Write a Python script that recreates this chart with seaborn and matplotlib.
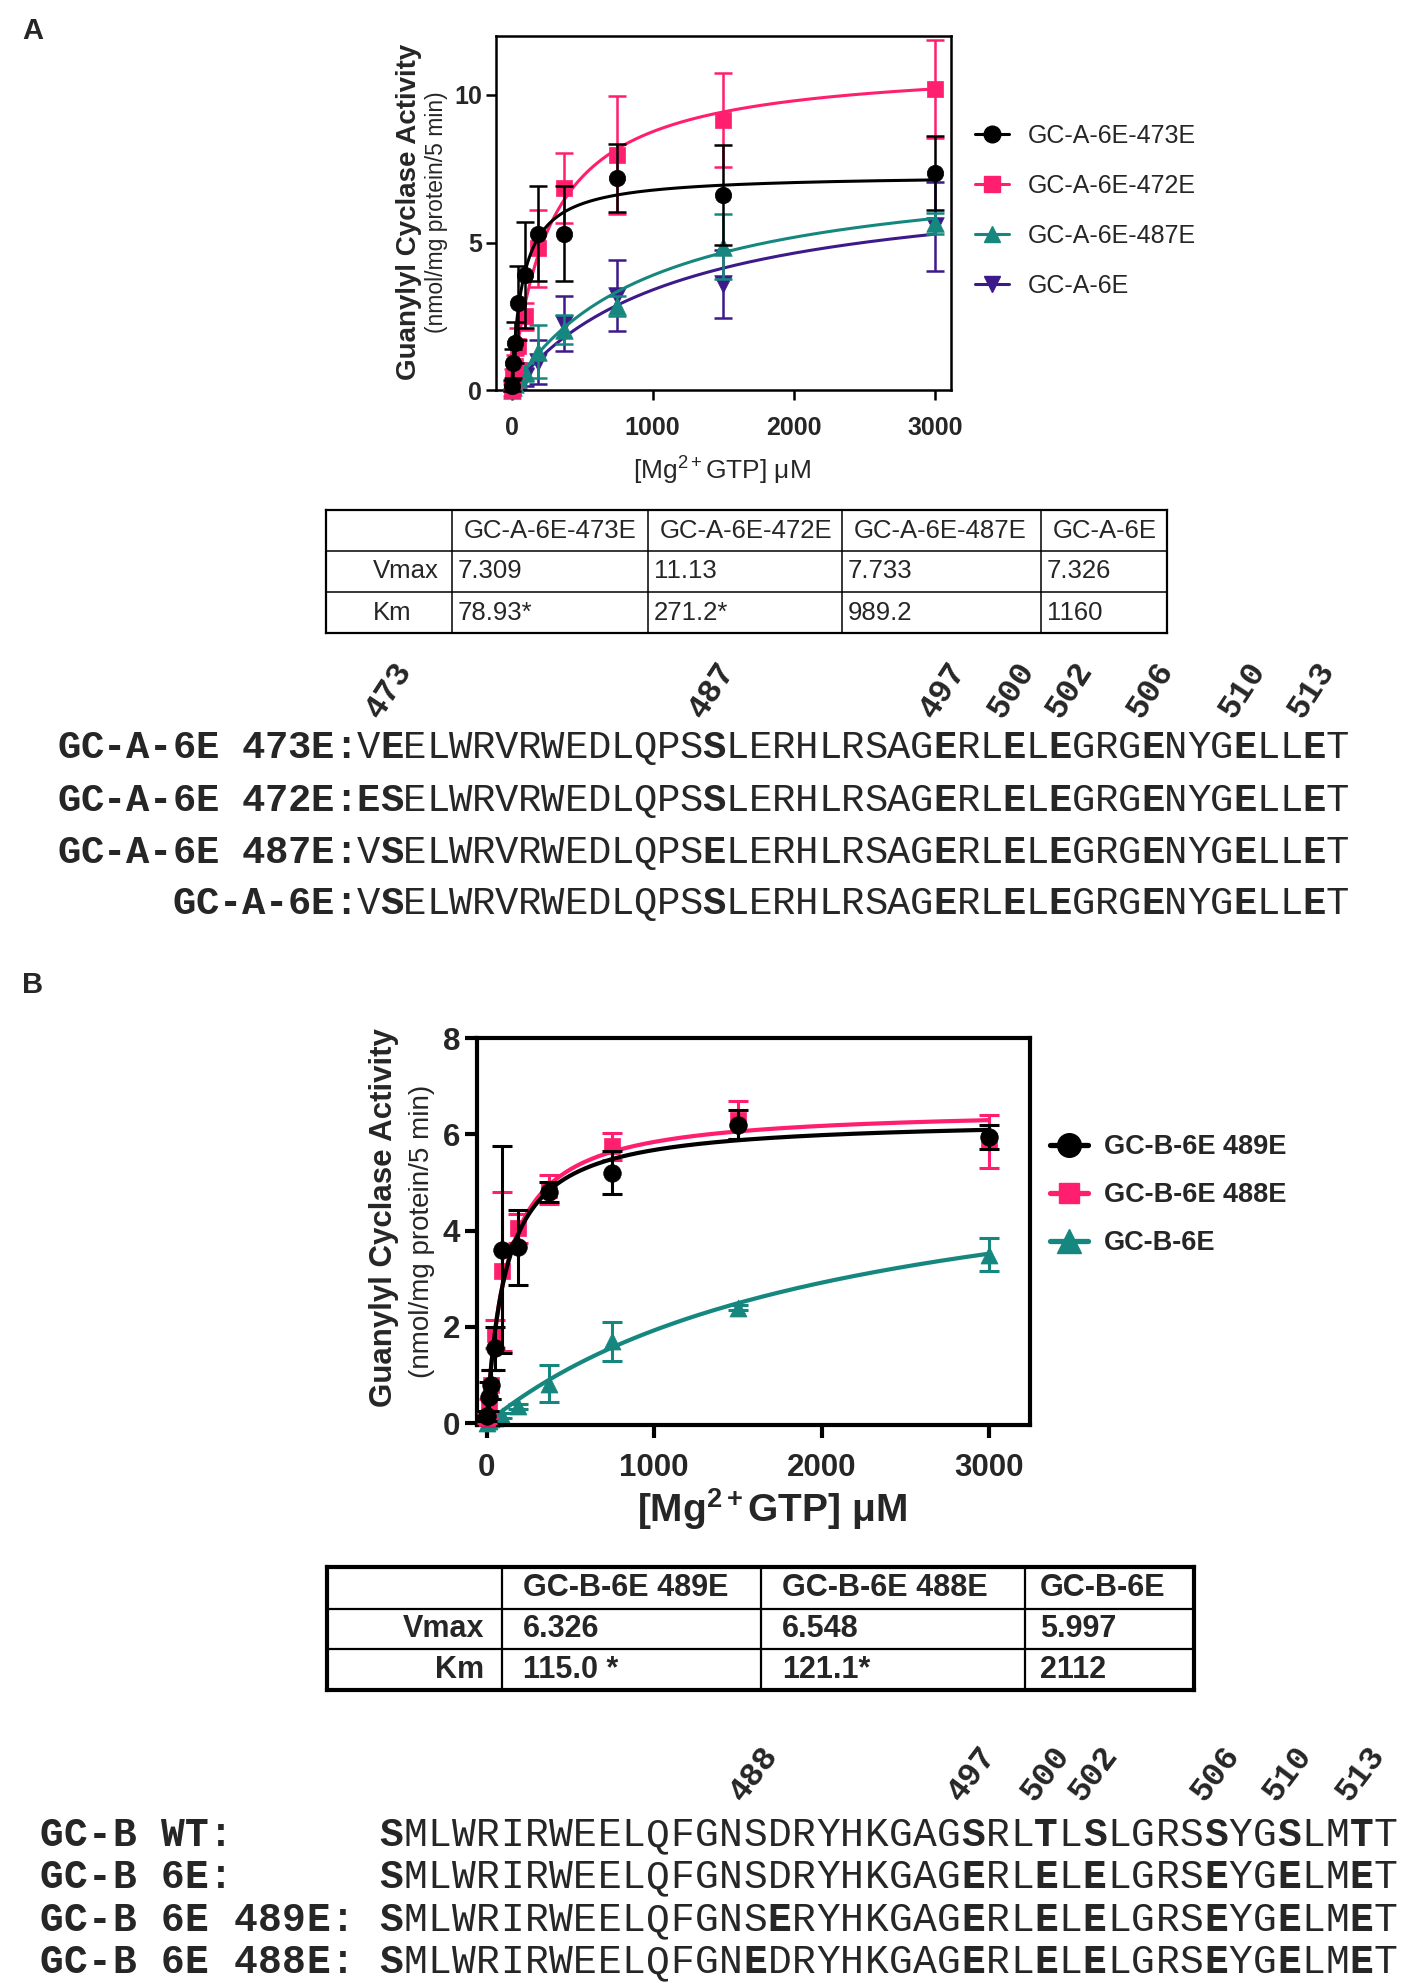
import numpy as np
import pandas as pd
import matplotlib
matplotlib.use("Agg")
import matplotlib.pyplot as plt
import seaborn as sns
from matplotlib.lines import Line2D

W, H, DPI = 1418, 1982, 100

# ---------------- data ----------------
conc = [0, 11.7, 23.4, 46.9, 93.75, 187.5, 375, 750, 1500, 3000]

a_names = ["GC-A-6E-473E", "GC-A-6E-472E", "GC-A-6E-487E", "GC-A-6E"]
a_473E = [0.15, 0.9, 1.6, 2.95, 3.9, 5.3, 5.3, 7.2, 6.6, 7.35]
a_473E_err = [0.2, 0.5, 0.7, 1.25, 1.8, 1.6, 1.6, 1.15, 1.7, 1.25]
a_472E = [0.0, 0.4, 0.8, 1.5, 2.5, 4.8, 6.85, 7.95, 9.15, 10.2]
a_472E_err = [0.2, 0.3, 0.4, 0.6, 0.45, 1.3, 1.2, 2.0, 1.6, 1.65]
a_487E = [0.0, 0.1, 0.2, 0.4, 0.6, 1.3, 2.05, 2.85, 4.85, 5.65]
a_487E_err = [0.05, 0.1, 0.1, 0.15, 0.3, 0.9, 0.5, 0.35, 1.1, 0.35]
a_6E = [0.0, 0.05, 0.1, 0.2, 0.45, 0.95, 2.25, 3.2, 3.6, 5.55]
a_6E_err = [0.05, 0.1, 0.1, 0.15, 0.3, 0.75, 0.93, 1.2, 1.15, 1.5]
a_vmax = [7.309, 11.13, 7.733, 7.326]
a_km = [78.93, 271.2, 989.2, 1160]
a_vmax_txt = ["7.309", "11.13", "7.733", "7.326"]
a_km_txt = ["78.93*", "271.2*", "989.2", "1160"]
a_xticks = [0, 1000, 2000, 3000]
a_yticks = [0, 5, 10]

b_names = ["GC-B-6E 489E", "GC-B-6E 488E", "GC-B-6E"]
b_489E = [0.15, 0.55, 0.8, 1.55, 3.6, 3.65, 4.8, 5.2, 6.2, 5.95]
b_489E_err = [0.1, 0.3, 0.3, 0.45, 2.15, 0.78, 0.2, 0.45, 0.3, 0.25]
b_488E = [0.1, 0.3, 0.8, 1.85, 3.15, 4.05, 4.85, 5.75, 6.3, 5.85]
b_488E_err = [0.1, 0.2, 0.3, 0.3, 1.65, 0.3, 0.3, 0.28, 0.4, 0.55]
b_6E = [0.0, 0.05, 0.08, 0.1, 0.15, 0.35, 0.82, 1.7, 2.4, 3.5]
b_6E_err = [0.02, 0.03, 0.03, 0.05, 0.05, 0.05, 0.38, 0.4, 0.05, 0.35]
b_vmax = [6.326, 6.548, 5.997]
b_km = [115.0, 121.1, 2112]
b_vmax_txt = ["6.326", "6.548", "5.997"]
b_km_txt = ["115.0 *", "121.1*", "2112"]
b_xticks = [0, 1000, 2000, 3000]
b_yticks = [0, 2, 4, 6, 8]

# sequences
seqA_labels = ["GC-A-6E 473E:", "GC-A-6E 472E:", "GC-A-6E 487E:", "GC-A-6E:"]
seqA = ["VEELWRVRWEDLQPSSLERHLRSAGERLELEGRGENYGELLET",
        "ESELWRVRWEDLQPSSLERHLRSAGERLELEGRGENYGELLET",
        "VSELWRVRWEDLQPSELERHLRSAGERLELEGRGENYGELLET",
        "VSELWRVRWEDLQPSSLERHLRSAGERLELEGRGENYGELLET"]
seqA_bold_common = [1, 15, 25, 28, 30, 34, 38, 41]
seqA_bold_extra = [[], [0], [], []]
seqA_nums = ["473", "487", "497", "500", "502", "506", "510", "513"]
seqA_num_idx = [1, 15, 25, 28, 30.5, 34, 38, 41]

seqB_labels = ["GC-B WT:", "GC-B 6E:", "GC-B 6E 489E:", "GC-B 6E 488E:"]
seqB = ["SMLWRIRWEELQFGNSDRYHKGAGSRLTLSLGRSSYGSLMTT",
        "SMLWRIRWEELQFGNSDRYHKGAGERLELELGRSEYGELMET",
        "SMLWRIRWEELQFGNSERYHKGAGERLELELGRSEYGELMET",
        "SMLWRIRWEELQFGNEDRYHKGAGERLELELGRSEYGELMET"]
seqB_bold_common = [0, 24, 27, 29, 34, 37, 40]
seqB_bold_extra = [[], [], [16], [15]]
seqB_nums = ["488", "497", "500", "502", "506", "510", "513"]
seqB_num_idx = [15, 24, 27, 29, 34, 37, 40]

BLACK = "#000000"
PINK = "#FF1F6E"
TEAL = "#16877F"
PURPLE = "#3D1A8A"

# ---------------- style ----------------
sns.set_style("ticks")
plt.rcParams['font.family'] = ['Liberation Sans', 'DejaVu Sans']
plt.rcParams['mathtext.fontset'] = 'custom'
plt.rcParams['mathtext.rm'] = 'Liberation Sans'
plt.rcParams['mathtext.it'] = 'Liberation Sans:italic'
plt.rcParams['mathtext.bf'] = 'Liberation Sans:bold'

fig = plt.figure(figsize=(W / DPI, H / DPI), dpi=DPI)
fig.patch.set_facecolor('white')


def px_axes(l, t, r, b):
    return fig.add_axes([l / W, 1 - b / H, (r - l) / W, (b - t) / H])


def draw_series(ax, y, e, vmax, km, color, marker, size, lw, elw, cap, z):
    xf = np.linspace(0, 3000, 500)
    df_fit = pd.DataFrame({"x": xf, "y": vmax * xf / (km + xf)})
    sns.lineplot(data=df_fit, x="x", y="y", color=color, linewidth=lw, ax=ax, zorder=z)
    ax.errorbar(conc, y, yerr=e, fmt='none', ecolor=color, elinewidth=elw,
                capsize=cap, capthick=elw, zorder=z + 0.1, clip_on=False)
    df_pts = pd.DataFrame({"x": conc, "y": y})
    sns.scatterplot(data=df_pts, x="x", y="y", color=color, marker=marker, s=size,
                    edgecolor=color, linewidth=0.5, ax=ax, zorder=z + 0.2,
                    clip_on=False, legend=False)


def style_axes(ax, xlim, ylim, xt, yt, lw, tl, fs, pady, padx):
    ax.set_xlim(*xlim)
    ax.set_ylim(*ylim)
    ax.set_xticks(xt)
    ax.set_yticks(yt)
    ax.set_xticklabels([str(v) for v in xt], fontsize=fs, fontweight='bold')
    ax.set_yticklabels([str(v) for v in yt], fontsize=fs, fontweight='bold')
    ax.set_xlabel("")
    ax.set_ylabel("")
    for s in ax.spines.values():
        s.set_visible(True)
        s.set_linewidth(lw)
        s.set_color("black")
    ax.tick_params(axis='both', direction='out', length=tl, width=lw, color='black')
    ax.tick_params(axis='x', pad=padx)
    ax.tick_params(axis='y', pad=pady)
    ax.set_facecolor('white')


# ---------------- panel A plot ----------------
axA = px_axes(496, 36, 951, 390)
draw_series(axA, a_6E, a_6E_err, a_vmax[3], a_km[3], PURPLE, 'v', 160, 2.2, 1.8, 6.5, 2)
draw_series(axA, a_487E, a_487E_err, a_vmax[2], a_km[2], TEAL, '^', 160, 2.2, 1.8, 6.5, 3)
draw_series(axA, a_472E, a_472E_err, a_vmax[1], a_km[1], PINK, 's', 120, 2.2, 1.8, 6.5, 4)
draw_series(axA, a_473E, a_473E_err, a_vmax[0], a_km[0], BLACK, 'o', 140, 2.2, 1.8, 6.5, 5)
style_axes(axA, (-110, 3115), (0, 12), a_xticks, a_yticks, 1.8, 7, 18, 3, 12)

handlesA = [Line2D([0], [0], color=c, marker=m, markersize=ms, linewidth=2.2)
            for c, m, ms in zip([BLACK, PINK, TEAL, PURPLE], ['o', 's', '^', 'v'], [12, 11, 12, 12])]
fig.legend(handlesA, a_names, loc='upper left', bbox_to_anchor=(975 / W, 1 - 124 / H),
           frameon=False, fontsize=18, handlelength=1.36, handletextpad=0.75,
           labelspacing=1.04, borderpad=0, borderaxespad=0)

# ---------------- panel B plot ----------------
axB = px_axes(477, 1038, 1030, 1425)
draw_series(axB, b_6E, b_6E_err, b_vmax[2], b_km[2], TEAL, '^', 150, 3.0, 2.2, 7, 2)
draw_series(axB, b_488E, b_488E_err, b_vmax[1], b_km[1], PINK, 's', 140, 3.0, 2.2, 7, 3)
draw_series(axB, b_489E, b_489E_err, b_vmax[0], b_km[0], BLACK, 'o', 160, 3.0, 2.2, 7, 4)
style_axes(axB, (-58, 3245), (-0.04, 8), b_xticks, b_yticks, 3.0, 9, 22.5, 3, 11)

handlesB = [Line2D([0], [0], color=c, marker=m, markersize=ms, linewidth=3.8)
            for c, m, ms in zip([BLACK, PINK, TEAL], ['o', 's', '^'], [17, 15, 17])]
fig.legend(handlesB, b_names, loc='upper left', bbox_to_anchor=(1050 / W, 1 - 1134 / H),
           frameon=False, prop={'size': 19.5, 'weight': 'bold'}, handlelength=1.4,
           handletextpad=0.6, labelspacing=0.82, borderpad=0, borderaxespad=0)

# ---------------- overlay for text, tables, sequences ----------------
ov = fig.add_axes([0, 0, 1, 1], zorder=10)
ov.set_xlim(0, W)
ov.set_ylim(H, 0)
ov.axis('off')
ov.patch.set_alpha(0)

# panel letters
ov.text(33, 31, "A", fontsize=21, fontweight='bold', ha='center', va='center')
ov.text(33, 985, "B", fontsize=21, fontweight='bold', ha='center', va='center')

# axis labels A
ov.text(409, 212, "Guanylyl Cyclase Activity", rotation=90, fontsize=20,
        fontweight='bold', ha='center', va='center')
ov.text(437, 212, "(nmol/mg protein/5 min)", rotation=90, fontsize=16.5,
        ha='center', va='center')
ov.text(722, 455, "[Mg$^{\\mathregular{2+}}$GTP] \u03bcM", fontsize=19,
        ha='center', va='top')

# axis labels B
ov.text(384, 1218, "Guanylyl Cyclase Activity", rotation=90, fontsize=22.5,
        fontweight='bold', ha='center', va='center')
ov.text(422, 1231, "(nmol/mg protein/5 min)", rotation=90, fontsize=20,
        ha='center', va='center')
ov.text(772, 1486, "[Mg$^{\\mathbf{2+}}$GTP] \u03bcM", fontsize=28,
        fontweight='bold', ha='center', va='top')

# table A
tA_x = [326, 452, 648, 842, 1041, 1167]
tA_y = [510, 551, 592, 633]
for i, yy in enumerate(tA_y):
    ov.plot([tA_x[0], tA_x[-1]], [yy, yy], color='black',
            lw=1.6 if i in (0, len(tA_y) - 1) else 1.1, solid_capstyle='projecting')
for i, xx in enumerate(tA_x):
    ov.plot([xx, xx], [tA_y[0], tA_y[-1]], color='black',
            lw=1.6 if i in (0, len(tA_x) - 1) else 1.1, solid_capstyle='projecting')
rowsA_c = [(tA_y[k] + tA_y[k + 1]) / 2 for k in range(3)]
for j, name in enumerate(a_names):
    ov.text(tA_x[j + 1] + 12, rowsA_c[0], name, fontsize=18.5, ha='left', va='center')
    ov.text(tA_x[j + 1] + 6, rowsA_c[1], a_vmax_txt[j], fontsize=18.5, ha='left', va='center')
    ov.text(tA_x[j + 1] + 6, rowsA_c[2], a_km_txt[j], fontsize=18.5, ha='left', va='center')
ov.text(373, rowsA_c[1], "Vmax", fontsize=18.5, ha='left', va='center')
ov.text(373, rowsA_c[2], "Km", fontsize=18.5, ha='left', va='center')

# table B
tB_x = [327, 502, 761, 1025, 1194]
tB_y = [1567, 1609, 1649, 1690]
for i, yy in enumerate(tB_y):
    ov.plot([tB_x[0], tB_x[-1]], [yy, yy], color='black',
            lw=3.0 if i in (0, len(tB_y) - 1) else 1.6, solid_capstyle='projecting')
for i, xx in enumerate(tB_x):
    ov.plot([xx, xx], [tB_y[0], tB_y[-1]], color='black',
            lw=3.0 if i in (0, len(tB_x) - 1) else 1.6, solid_capstyle='projecting')
rowsB_c = [(tB_y[k] + tB_y[k + 1]) / 2 for k in range(3)]
padsB = [21, 21, 15]
for j, name in enumerate(b_names):
    ov.text(tB_x[j + 1] + padsB[j], rowsB_c[0], name, fontsize=22, fontweight='bold', ha='left', va='center')
    ov.text(tB_x[j + 1] + padsB[j], rowsB_c[1], b_vmax_txt[j], fontsize=22, fontweight='bold', ha='left', va='center')
    ov.text(tB_x[j + 1] + padsB[j], rowsB_c[2], b_km_txt[j], fontsize=22, fontweight='bold', ha='left', va='center')
ov.text(484, rowsB_c[1], "Vmax", fontsize=22, fontweight='bold', ha='right', va='center')
ov.text(484, rowsB_c[2], "Km", fontsize=22, fontweight='bold', ha='right', va='center')

# sequences
MONO = ['Liberation Mono', 'DejaVu Sans Mono']


def draw_seq_block(labels, seqs, bold_common, bold_extra, x0, pitch, rows_y, fs,
                   label_left=None, nums=None, num_idx=None, num_y=None, num_fs=24, num_rot=55):
    em = fs * DPI / 72.0
    for r, (lab, seq) in enumerate(zip(labels, seqs)):
        yb = rows_y[r] + 0.29 * em
        bset = set(bold_common) | set(bold_extra[r])
        for i, ch in enumerate(seq):
            ov.text(x0 + (i + 0.5) * pitch, yb, ch, family=MONO, fontsize=fs,
                    fontweight='bold' if i in bset else 'normal',
                    ha='center', va='baseline')
        n = len(lab)
        for j, ch in enumerate(lab):
            if label_left is None:
                xc = x0 - (n - j - 0.5) * pitch
            else:
                xc = label_left + (j + 0.5) * pitch
            ov.text(xc, yb, ch, family=MONO, fontsize=fs, fontweight='bold',
                    ha='center', va='baseline')
    for t, idx in zip(nums, num_idx):
        ov.text(x0 + idx * pitch, num_y, t, family=MONO, fontsize=num_fs,
                fontweight='bold', rotation=num_rot, rotation_mode='anchor',
                ha='left', va='baseline')


draw_seq_block(seqA_labels, seqA, seqA_bold_common, seqA_bold_extra,
               357, 23.06, [747, 800, 852, 903], 28,
               nums=seqA_nums, num_idx=seqA_num_idx, num_y=720, num_rot=57)
draw_seq_block(seqB_labels, seqB, seqB_bold_common, seqB_bold_extra,
               379, 24.26, [1835, 1877, 1920, 1962], 28.5, label_left=39,
               nums=seqB_nums, num_idx=seqB_num_idx, num_y=1803, num_rot=53)

fig.savefig("out.png", dpi=DPI, facecolor='white')
